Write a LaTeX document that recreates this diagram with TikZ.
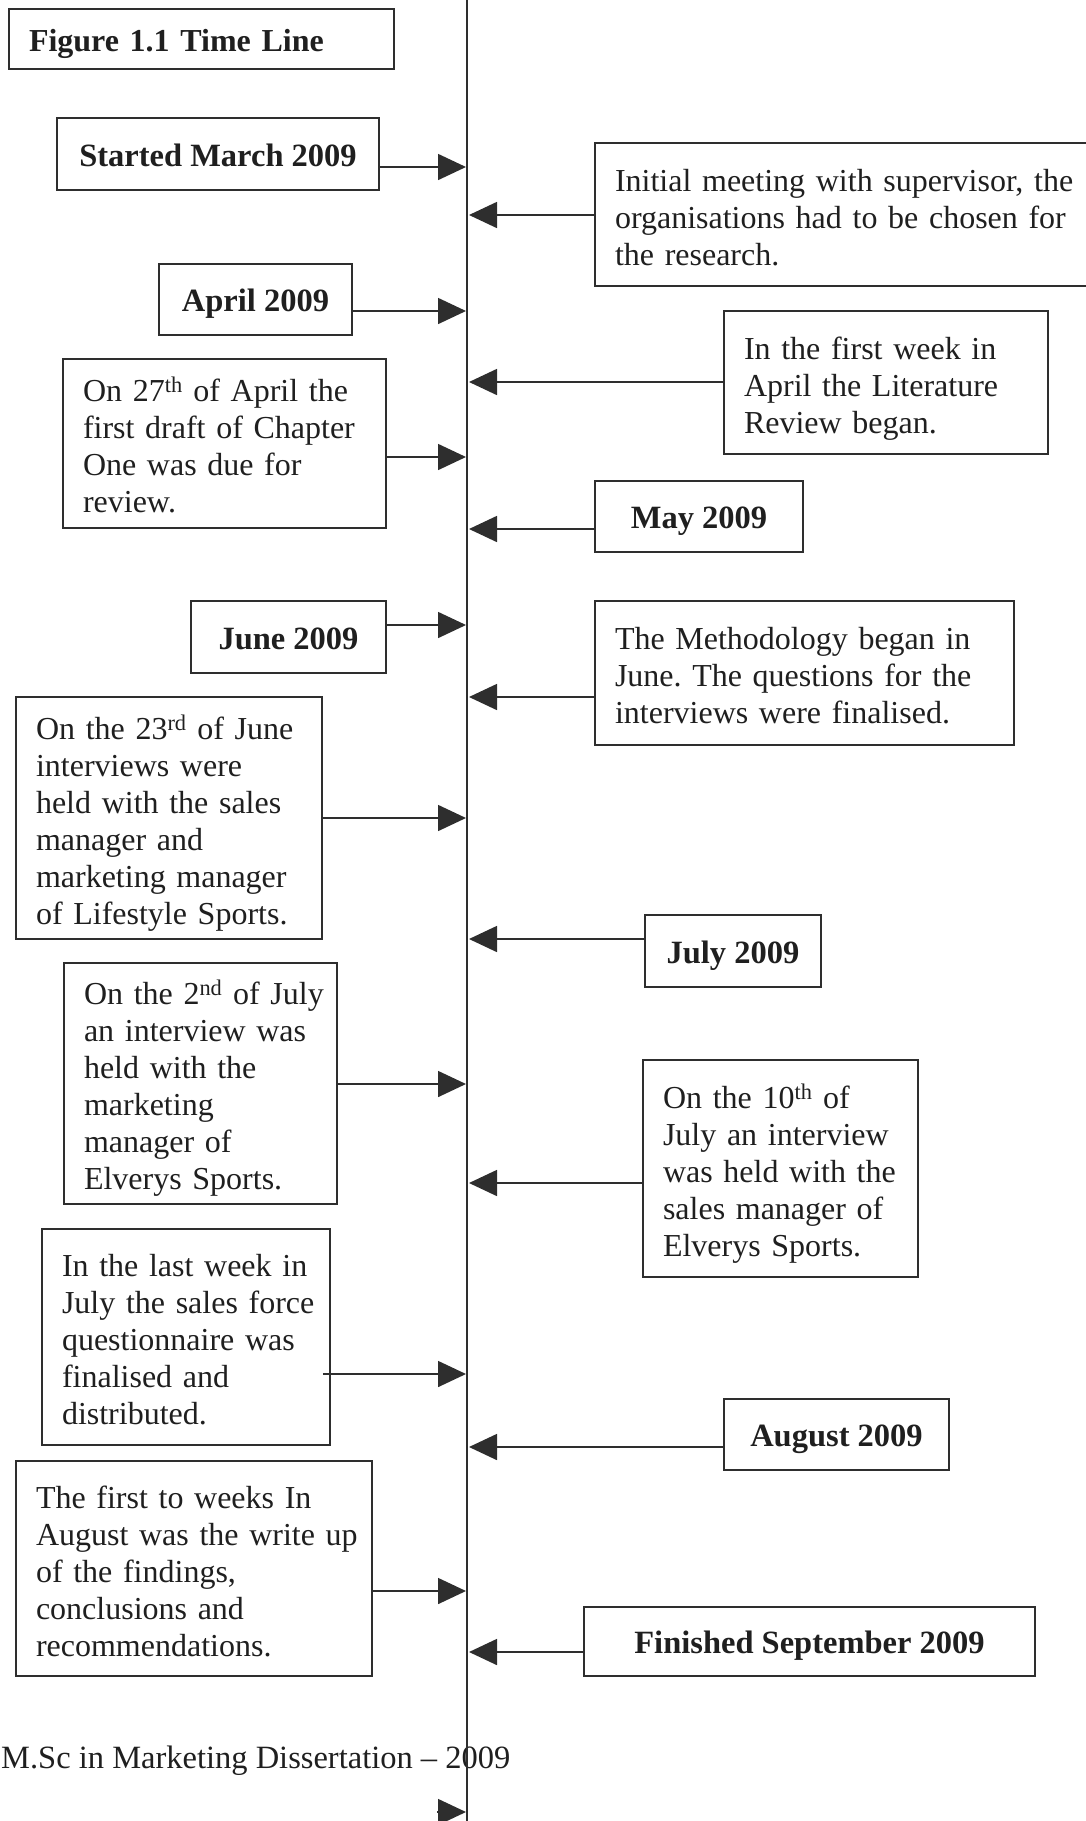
\documentclass[tikz,border=0pt]{standalone}
\usepackage{fontspec}
\setmainfont{Liberation Serif}
\usetikzlibrary{arrows.meta}
\definecolor{ink}{gray}{0.18}
\definecolor{txt}{gray}{0.12}
\newcommand\padtop{\rule{0pt}{39pt}}
\tikzset{
  box/.style={draw=ink, line width=1.8pt, text=txt, inner xsep=20pt, inner ysep=0pt,
    font=\fontsize{32}{37}\selectfont},
  bbox/.style={box, font=\fontsize{32.5}{37}\selectfont\bfseries, align=center,
    text height=28pt, text depth=4pt},
  tbox/.style={box, align=left},
  arr/.style={draw=ink, line width=1.6pt, -{Triangle[length=28pt,width=26pt]}},
  axis/.style={draw=ink, line width=1.8pt}
}
\begin{document}
\frenchspacing
\begin{tikzpicture}[x=1pt,y=-1pt]
\useasboundingbox (0,0) rectangle (1085,1821);

% title
\node[box, font=\fontsize{32}{37}\selectfont\bfseries, align=left, text width=345pt,
  text height=28pt, text depth=4pt,
  minimum width=385pt, minimum height=60pt] (fig) at (201.5,39) {Figure 1.1 Time Line};

% left-hand boxes
\node[bbox, minimum width=322pt, minimum height=72pt] (start) at (218,154) {Started March 2009};
\node[bbox, minimum width=193pt, minimum height=71pt] (april) at (255.5,299.5) {April 2009};
\node[tbox, text width=283pt, minimum width=323pt, minimum height=169pt] (apr27) at (224.5,443.5)
  {\begin{tabular}{@{}l@{}}\padtop On 27\textsuperscript{th} of April the\\first draft of Chapter\\One was due for\\review.\end{tabular}};
\node[bbox, minimum width=195pt, minimum height=72pt] (june) at (288.5,637) {June 2009};
\node[tbox, text width=266pt, minimum width=306pt, minimum height=242pt] (jun23) at (169,818)
  {\begin{tabular}{@{}l@{}}\padtop On the 23\textsuperscript{rd} of June\\interviews were\\held with the sales\\manager and\\marketing manager\\of Lifestyle Sports.\end{tabular}};
\node[tbox, text width=233pt, minimum width=273pt, minimum height=241pt] (jul2) at (200.5,1083.5)
  {\begin{tabular}{@{}l@{}}\padtop On the 2\textsuperscript{nd} of July\\an interview was\\held with the\\marketing\\manager of\\Elverys Sports.\end{tabular}};
\node[tbox, text width=248pt, minimum width=288pt, minimum height=216pt] (lastjul) at (186,1337)
  {\begin{tabular}{@{}l@{}}\padtop In the last week in\\July the sales force\\questionnaire was\\finalised and\\distributed.\end{tabular}};
\node[tbox, text width=316pt, minimum width=356pt, minimum height=215pt] (aug1) at (194,1568.5)
  {\begin{tabular}{@{}l@{}}\padtop The first to weeks In\\August was the write up\\of the findings,\\conclusions and\\recommendations.\end{tabular}};

% right-hand boxes
\node[tbox, text width=485pt, minimum width=525pt, minimum height=143pt] (init) at (857.5,214.5)
  {\begin{tabular}{@{}l@{}}\padtop Initial meeting with supervisor, the\\organisations had to be chosen for\\the research.\end{tabular}};
\node[tbox, text width=284pt, minimum width=324pt, minimum height=143pt] (lit) at (886,382.5)
  {\begin{tabular}{@{}l@{}}\padtop In the first week in\\April the Literature\\Review began.\end{tabular}};
\node[bbox, minimum width=208pt, minimum height=71pt] (may) at (699,516.5) {May 2009};
\node[tbox, text width=379pt, minimum width=419pt, minimum height=144pt] (meth) at (804.5,673)
  {\begin{tabular}{@{}l@{}}\padtop The Methodology began in\\June. The questions for the\\interviews were finalised.\end{tabular}};
\node[bbox, minimum width=176pt, minimum height=72pt] (july) at (733,951) {July 2009};
\node[tbox, text width=235pt, minimum width=275pt, minimum height=217pt] (jul10) at (780.5,1168.5)
  {\begin{tabular}{@{}l@{}}\padtop On the 10\textsuperscript{th} of\\July an interview\\was held with the\\sales manager of\\Elverys Sports.\end{tabular}};
\node[bbox, minimum width=225pt, minimum height=71pt] (aug) at (836.5,1434.5) {August 2009};
\node[bbox, minimum width=451pt, minimum height=69pt] (fin) at (809.5,1641.5) {Finished September 2009};

% footer
\node[anchor=base west, inner sep=0pt, text=txt, font=\fontsize{32.5}{37}\selectfont] (foot) at (1,1768)
  {M.Sc in Marketing Dissertation -- 2009};

% timeline
\coordinate (ttop) at (467,0);
\coordinate (tbot) at (467,1821);
\draw[axis] (ttop) -- (tbot);

% arrow end points on the timeline
\coordinate (r1) at (466,167);
\coordinate (r2) at (466,311);
\coordinate (r3) at (466,457);
\coordinate (r4) at (466,625);
\coordinate (r5) at (466,818);
\coordinate (r6) at (466,1084);
\coordinate (r7) at (466,1374);
\coordinate (r8) at (466,1591);
\coordinate (l1) at (469,215);
\coordinate (l2) at (469,382);
\coordinate (l3) at (469,529);
\coordinate (l4) at (469,697);
\coordinate (l5) at (469,939);
\coordinate (l6) at (469,1183);
\coordinate (l7) at (469,1447);
\coordinate (l8) at (469,1652);

\draw[arr] (start.east |- r1) -- (r1);
\draw[arr] (april.east |- r2) -- (r2);
\draw[arr] (apr27.east |- r3) -- (r3);
\draw[arr] (june.east |- r4) -- (r4);
\draw[arr] (jun23.east |- r5) -- (r5);
\draw[arr] (jul2.east |- r6) -- (r6);
\draw[arr] ([xshift=-8pt]lastjul.east |- r7) -- (r7);
\draw[arr] (aug1.east |- r8) -- (r8);

\draw[arr] (init.west |- l1) -- (l1);
\draw[arr] (lit.west |- l2) -- (l2);
\draw[arr] (may.west |- l3) -- (l3);
\draw[arr] (meth.west |- l4) -- (l4);
\draw[arr] (july.west |- l5) -- (l5);
\draw[arr] (jul10.west |- l6) -- (l6);
\draw[arr] (aug.west |- l7) -- (l7);
\draw[arr] (fin.west |- l8) -- (l8);

% lone arrowhead at the bottom edge
\coordinate (c0) at (437,1812);
\coordinate (c1) at (466,1812);
\draw[arr] (c0) -- (c1);
\end{tikzpicture}
\end{document}
